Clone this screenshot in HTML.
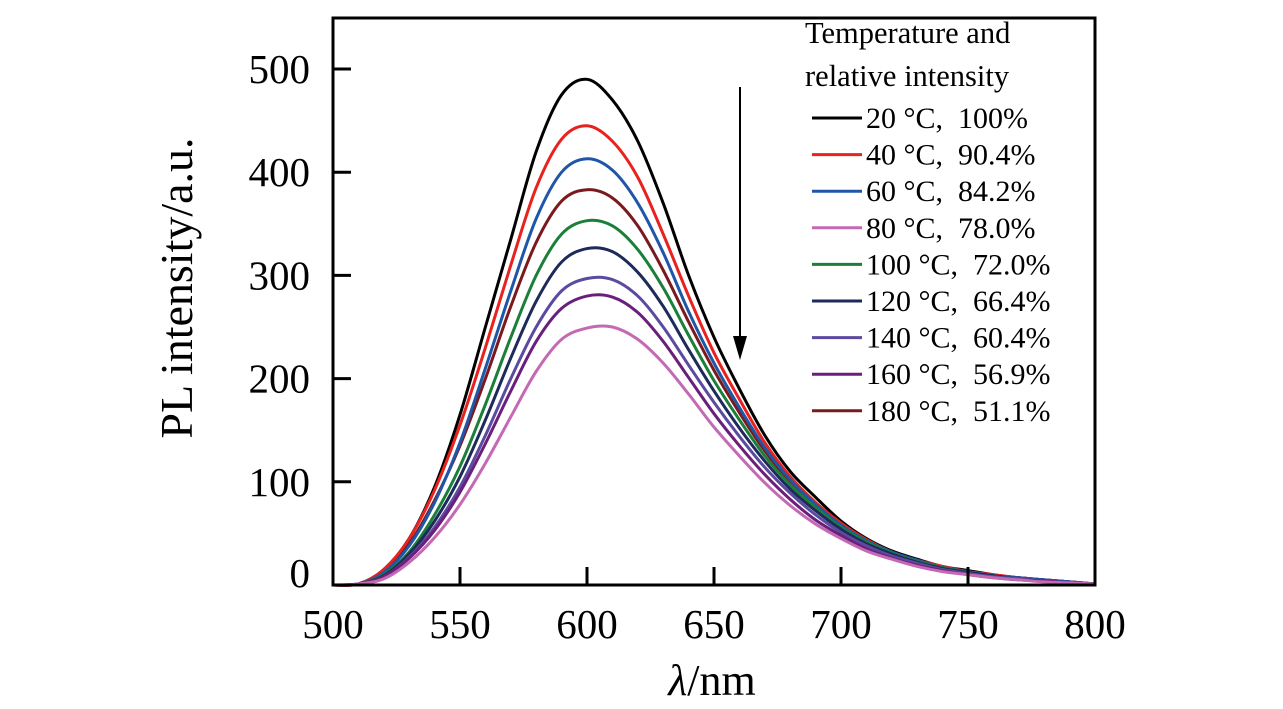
<!DOCTYPE html>
<html><head><meta charset="utf-8"><style>
body{margin:0;background:#fff}
svg{display:block;font-family:"Liberation Serif",serif}
text{white-space:pre}
</style></head><body>
<svg id="c" width="1283" height="709" viewBox="0 0 1283 709"></svg>
<script>
const wavelengths=[500,510,520,530,540,550,560,570,580,590,600,610,620,630,640,650,660,670,680,690,700,710,720,730,740,750,760,770,780,790,800];
const s20=[0,1,15,45,95,165,250,335,420,475,490,470,430,370,300,240,190,145,110,85,62,45,33,25,18,14,10,7,5,3,1];
const s40=[0,1,15,45,92,155,230,310,385,432,445,430,395,340,280,225,180,138,105,80,60,44,32,24,18,13,10,7,5,3,1];
const s60=[0,1,12,38,80,138,210,285,355,400,413,402,370,322,265,215,172,133,102,78,58,43,32,24,17,13,9,7,5,3,1];
const s180=[0,1,13,40,82,135,200,270,332,372,383,375,348,305,255,208,167,130,100,77,58,43,32,24,17,13,9,7,5,3,1];
const s100=[0,1,10,32,68,115,175,240,300,340,353,348,325,288,242,198,160,125,97,75,56,42,31,23,17,12,9,6,4,2,1];
const s120=[0,1,9,30,62,105,160,220,275,313,326,323,303,270,228,188,152,120,93,72,54,40,30,22,16,12,9,6,4,2,1];
const s140=[0,1,8,27,56,95,145,200,250,285,297,296,280,250,213,177,144,114,89,68,51,38,28,21,15,11,8,6,4,2,1];
const s160=[0,1,8,26,53,90,137,188,236,268,280,279,264,236,201,166,135,107,83,63,48,35,26,19,14,10,7,5,4,2,1];
const s80=[0,1,6,22,46,78,118,163,207,238,249,250,238,215,185,153,125,99,77,59,45,33,25,18,13,10,7,5,3,2,1];
const legendLabels=["20 °C,  100%","40 °C,  90.4%","60 °C,  84.2%","80 °C,  78.0%","100 °C,  72.0%","120 °C,  66.4%","140 °C,  60.4%","160 °C,  56.9%","180 °C,  51.1%"];
const xTicks=[500,550,600,650,700,750,800];
const yTicks=[0,100,200,300,400,500];

const series=[s20,s40,s60,s80,s100,s120,s140,s160,s180];
const colors=["#000","#e8221e","#1f56a8","#c469b4","#1b7f3a","#1d2a5a","#5b4aa0","#6a1f7a","#7a1a1e"];
const drawOrder=[8,0,1,2,4,5,6,7,3];
const NS="http://www.w3.org/2000/svg",svg=document.getElementById('c');
const L=333,R=1095,T=18,B=585;
const X=v=>L+(v-500)/300*(R-L);
const Y=v=>B-v/500*(B-69);
function mk(t,a,p){const e=document.createElementNS(NS,t);for(const k in a)e.setAttribute(k,a[k]);(p||svg).appendChild(e);return e;}
function smooth(pts){let d=`M${pts[0][0]},${pts[0][1]}`;for(let i=0;i<pts.length-1;i++){const p0=pts[i-1]||pts[i],p1=pts[i],p2=pts[i+1],p3=pts[i+2]||p2;
d+=` C${p1[0]+(p2[0]-p0[0])/6},${p1[1]+(p2[1]-p0[1])/6} ${p2[0]-(p3[0]-p1[0])/6},${p2[1]-(p3[1]-p1[1])/6} ${p2[0]},${p2[1]}`;}return d;}
drawOrder.forEach(i=>{
 const p=mk('path',{d:smooth(wavelengths.map((w,j)=>[X(w),Y(series[i][j])])),fill:'none',stroke:colors[i],'stroke-width':3});
 
 
});
const fr=mk('rect',{x:L,y:T,width:R-L,height:B-T,fill:'none',stroke:'#000','stroke-width':3});


xTicks.forEach(v=>{
 if(v>500&&v<800)mk('line',{x1:X(v),x2:X(v),y1:B,y2:B-18,stroke:'#000','stroke-width':3});
 const t=mk('text',{x:X(v),y:638,'font-size':41,'text-anchor':'middle'});t.textContent=v;
 
 
});
yTicks.forEach(v=>{
 if(v>0)mk('line',{x1:L,x2:L+18,y1:Y(v),y2:Y(v),stroke:'#000','stroke-width':3});
 const t=mk('text',{x:310,y:Y(v)+14-(v==0?12:0),'font-size':41,'text-anchor':'end'});t.textContent=v;
 
 
});
const yt=mk('text',{x:0,y:0,'font-size':46,'text-anchor':'middle',transform:'translate(192,288) rotate(-90)'});yt.textContent='PL intensity/a.u.';


const xt=mk('text',{x:712,y:695,'font-size':44,'text-anchor':'middle'});xt.innerHTML='<tspan font-style="italic">λ</tspan>/nm';


const lt1=mk('text',{x:805,y:43,'font-size':30.5});lt1.textContent='Temperature and';


const lt2=mk('text',{x:805,y:86,'font-size':30.5});lt2.textContent='relative intensity';


legendLabels.forEach((s,i)=>{
 const y=118+i*36.6;
 const g=mk('g',{});
 
 
 mk('line',{x1:812,x2:862,y1:y,y2:y,stroke:colors[i],'stroke-width':3},g);
 const t=mk('text',{x:866,y:y+10,'font-size':30},g);t.textContent=s;
});
const ar=mk('g',{});


mk('line',{x1:740,x2:740,y1:87,y2:340,stroke:'#000','stroke-width':2},ar);
mk('polygon',{points:'733,336 747,336 740,360',fill:'#000'},ar);
</script>
</body></html>
